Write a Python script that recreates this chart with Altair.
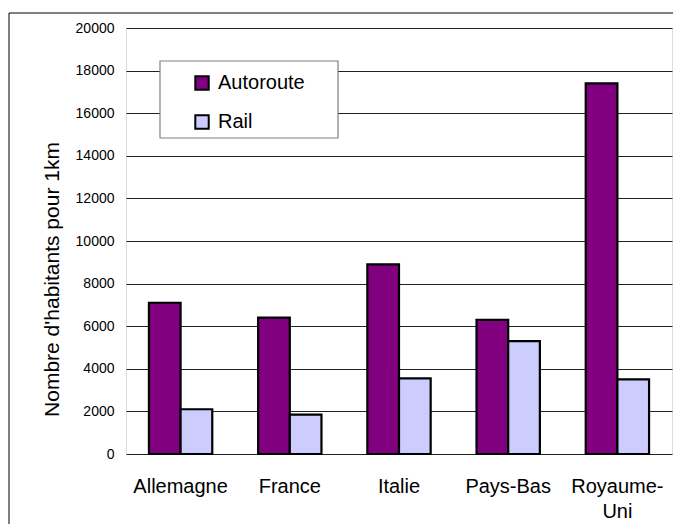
import altair as alt
import pandas as pd

pays = ["Allemagne", "France", "Italie", "Pays-Bas", "Royaume-Uni"]
autoroute = [7100, 6400, 8900, 6300, 17400]
rail = [2100, 1850, 3550, 5300, 3500]
series = ["Autoroute", "Rail"]
colors = ["#800080", "#CCCCFF"]
y_ticks = list(range(0, 20001, 2000))

rows = []
for p, a, r in zip(pays, autoroute, rail):
    rows.append({"pays": p, "mode": series[0], "valeur": a})
    rows.append({"pays": p, "mode": series[1], "valeur": r})
df = pd.DataFrame(rows)

FONT = "Liberation Sans"

bars = alt.Chart(df).mark_bar(stroke="black", strokeWidth=2.2).encode(
    x=alt.X(
        "pays:N",
        sort=pays,
        title=None,
        scale=alt.Scale(paddingInner=0.42, paddingOuter=0.21),
        axis=alt.Axis(
            labelAngle=0,
            labelFontSize=20,
            labelFont=FONT,
            labelColor="black",
            labelPadding=22,
            labelBaseline="top",
            labelLineHeight=25,
            ticks=False,
            domain=False,
            grid=False,
            labelExpr="datum.label == 'Royaume-Uni' ? ['Royaume-', 'Uni'] : datum.label",
        ),
    ),
    xOffset=alt.XOffset("mode:N", sort=series, scale=alt.Scale(paddingInner=0, paddingOuter=0)),
    y=alt.Y(
        "valeur:Q",
        scale=alt.Scale(domain=[0, 20000], nice=False),
        axis=alt.Axis(
            values=y_ticks,
            format="d",
            title="Nombre d'habitants pour 1km",
            titleFont=FONT,
            titleFontSize=21,
            titleFontWeight="normal",
            titleColor="black",
            titleAngle=270,
            titleAlign="center",
            titleBaseline="alphabetic",
            titleX=-68,
            titleY=251,
            labelFont=FONT,
            labelFontSize=14,
            labelColor="black",
            labelPadding=12,
            ticks=False,
            domain=False,
            grid=True,
            gridColor="#222222",
            gridWidth=1,
        ),
    ),
    color=alt.Color(
        "mode:N",
        sort=series,
        scale=alt.Scale(domain=series, range=colors),
        legend=alt.Legend(
            title=None,
            orient="none",
            legendX=34,
            legendY=37,
            direction="vertical",
            symbolType="square",
            symbolSize=180,
            symbolStrokeColor="black",
            symbolStrokeWidth=2,
            symbolOffset=24,
            labelFont=FONT,
            labelFontSize=20,
            labelColor="black",
            labelOffset=6,
            rowPadding=17,
            padding=8,
        ),
    ),
)

# legend frame (white box with grey border, as in the reference)
legend_box = alt.Chart(pd.DataFrame({"k": [0]})).mark_rect(
    fill="white", stroke="#808080", strokeWidth=1.2
).encode(
    x=alt.value(34),
    x2=alt.value(212),
    y=alt.value(33),
    y2=alt.value(110),
)

# outer chart frame
frame = alt.Chart(pd.DataFrame({"k": [0]})).mark_rect(
    fillOpacity=0, stroke="black", strokeWidth=1
).encode(
    x=alt.value(-117),
    x2=alt.value(800),
    y=alt.value(-15),
    y2=alt.value(800),
)

chart = alt.layer(bars, legend_box, frame).properties(
    width=546,
    height=426,
    autosize=alt.AutoSizeParams(type="none"),
    padding={"left": 118, "top": 20, "right": 1, "bottom": 70},
).configure_view(
    stroke="#808080", strokeWidth=1.5
).configure(background="white")

chart.save("out.html", embed_options={"renderer": "svg", "actions": False})
